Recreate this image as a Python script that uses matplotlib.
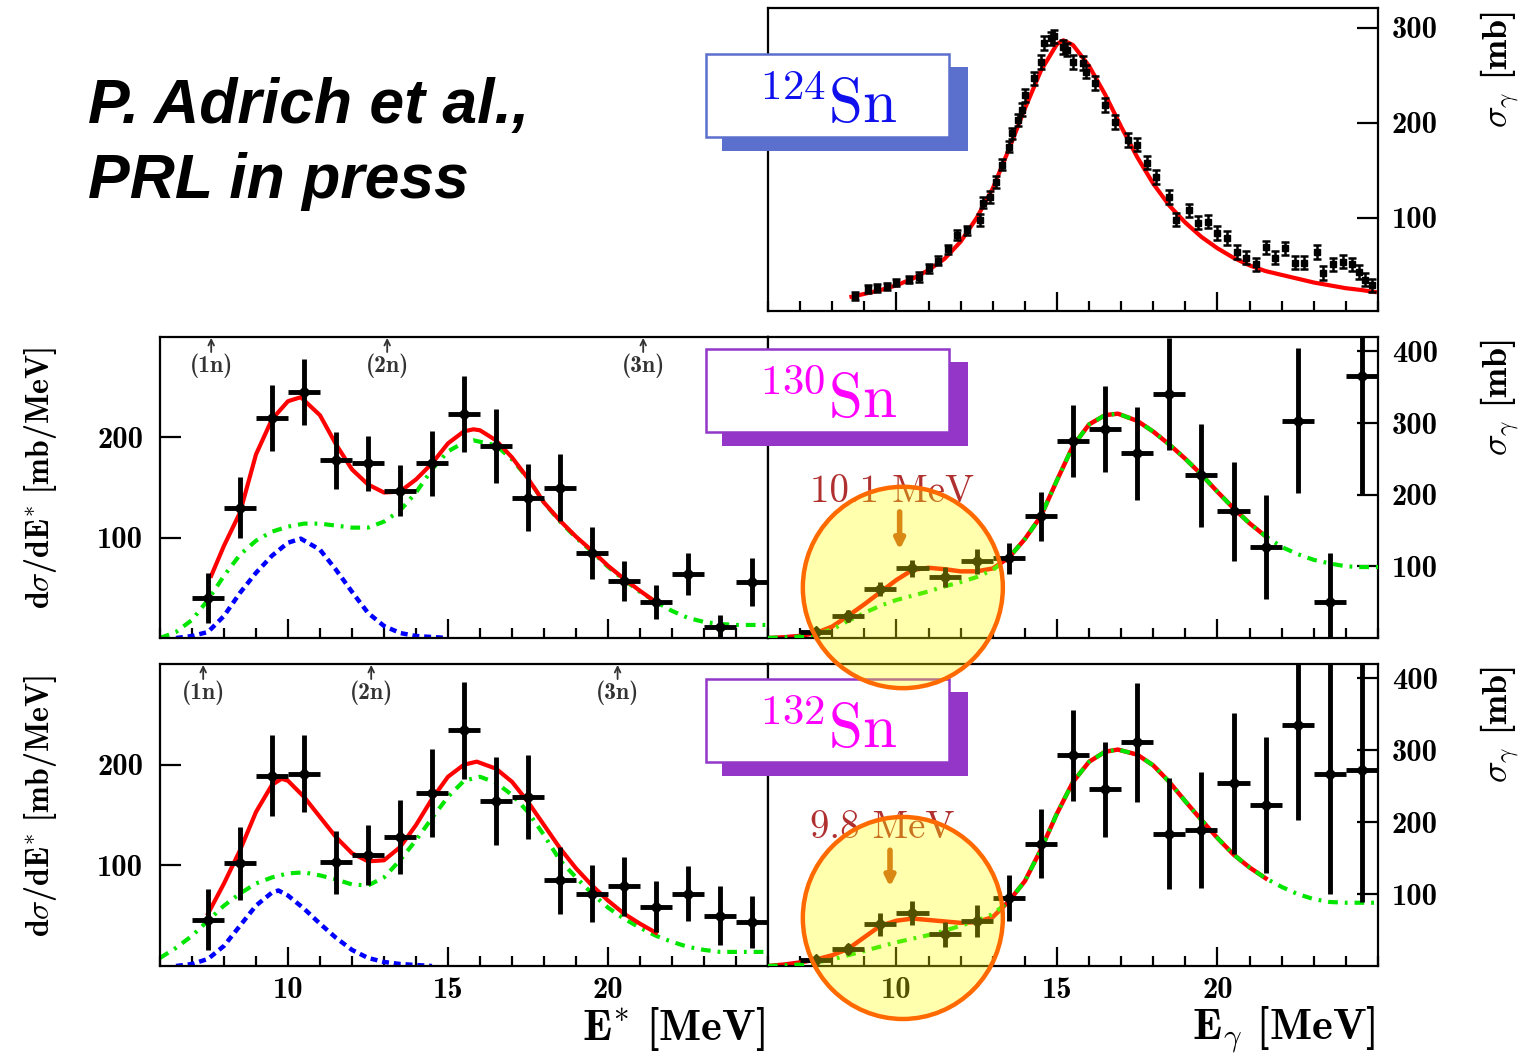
import matplotlib
matplotlib.use("Agg")
import matplotlib.pyplot as plt
from matplotlib.patches import Ellipse, Rectangle
from matplotlib.ticker import MultipleLocator, FixedLocator

plt.rcParams['mathtext.fontset'] = 'cm'
plt.rcParams['font.family'] = 'cmb10'
plt.rcParams['axes.unicode_minus'] = False
plt.rcParams['lines.scale_dashes'] = False

# ---- 124Sn photoabsorption cross section (top panel) ----
e124 = [8.7, 9.1, 9.4, 9.7, 10.0, 10.4, 10.7, 11.0, 11.3, 11.6, 11.9, 12.2, 12.6, 12.7,
        12.9, 13.1, 13.3, 13.5, 13.6, 13.8, 13.9, 14.0, 14.3, 14.5, 14.6, 14.8, 14.9,
        15.2, 15.3, 15.5, 15.8, 15.9, 16.2, 16.5, 16.8, 17.2, 17.5, 17.8, 18.1, 18.5,
        18.7, 19.1, 19.4, 19.7, 20.0, 20.3, 20.6, 20.9, 21.2, 21.5, 21.8, 22.1, 22.4,
        22.7, 23.1, 23.3, 23.6, 23.9, 24.2, 24.4, 24.6, 24.8]
sig124 = [18, 25, 26, 28, 32, 35, 38, 47, 55, 67, 82, 87, 98, 116, 122, 138, 156, 175,
          189, 203, 214, 229, 247, 264, 284, 289, 291, 280, 277, 264, 263, 254, 242, 219,
          201, 182, 177, 158, 143, 122, 98, 108, 95, 96, 84, 79, 64, 58, 51, 69, 58, 68,
          53, 53, 64, 42, 51, 54, 51, 43, 35, 29]
err124 = [4, 4, 4, 4, 4, 4, 5, 5, 5, 5, 5, 5, 6, 6, 6, 6, 6, 6, 6, 6, 7, 7, 7, 7, 7, 7,
          7, 7, 7, 7, 7, 7, 7, 7, 7, 7, 7, 7, 7, 7, 7, 7, 7, 7, 7, 7, 7, 7, 7, 7, 7, 7,
          7, 7, 7, 7, 7, 7, 7, 7, 7, 7]
fit124_e = [8.6, 9.0, 9.5, 10.0, 10.5, 11.0, 11.5, 12.0, 12.5, 13.0, 13.5, 14.0, 14.5,
            15.0, 15.2, 15.5, 16.0, 16.5, 17.0, 17.5, 18.0, 18.5, 19.0, 19.5, 20.0, 20.5,
            21.0, 21.5, 22.0, 22.5, 23.0, 23.5, 24.0, 24.5, 24.9]
fit124 = [17, 20, 24, 29, 36, 45, 57, 75, 100, 131, 172, 215, 255, 283, 287, 282, 260,
          230, 196, 164, 136, 113, 95, 80, 68, 58, 50, 44, 40, 36, 32, 29, 26, 24, 22]

# ---- energy bins shared by 130Sn / 132Sn spectra ----
ebin = [7.5, 8.5, 9.5, 10.5, 11.5, 12.5, 13.5, 14.5, 15.5, 16.5, 17.5, 18.5, 19.5, 20.5,
        21.5, 22.5, 23.5, 24.5]

# ---- 130Sn ----
dsde130 = [40, 130, 219, 245, 177, 174, 147, 174, 223, 191, 140, 150, 85, 57, 36, 64, 11, 56]
dsde130_err = [25, 30, 33, 33, 28, 27, 25, 32, 38, 37, 33, 33, 26, 20, 17, 21, 12, 24]
sg130 = [8, 31, 68, 97, 85, 107, 111, 170, 275, 292, 258, 341, 227, 177, 127, 303, 50, 366]
sg130_err = [4, 8, 10, 12, 14, 17, 22, 34, 50, 60, 65, 78, 72, 69, 72, 101, 68, 166]

tot130_e = [7.6, 8.0, 8.5, 9.0, 9.5, 10.0, 10.4, 11.0, 11.5, 12.0, 12.5, 13.0, 13.5, 14.0,
            14.5, 15.0, 15.5, 15.8, 16.0, 16.5, 17.0, 17.5, 18.0, 18.5, 19.0, 19.5, 20.0,
            20.5, 21.0, 21.4]
tot130 = [62, 92, 125, 183, 218, 236, 240, 222, 193, 168, 153, 145, 146, 158, 174, 194,
          206, 208, 207, 197, 180, 159, 135, 117, 101, 87, 72, 59, 47, 38]
gdr130_e = [6.0, 6.5, 7.0, 7.5, 8.0, 8.5, 9.0, 9.5, 10.0, 10.5, 11.0, 11.5, 12.0, 12.5,
            13.0, 13.5, 14.0, 14.5, 15.0, 15.5, 15.8, 16.5, 17.0, 17.5, 18.0, 18.5, 19.0,
            19.5, 20.0, 20.5, 21.0, 21.5, 22.0, 22.5, 23.0, 23.5, 24.0, 24.5, 25.0]
gdr130 = [0, 6, 18, 38, 62, 83, 97, 106, 111, 114, 114, 112, 110, 110, 116, 127, 145, 168,
          186, 195, 197, 192, 178, 159, 135, 116, 100, 86, 71, 58, 46, 36, 27, 20, 16, 14,
          13, 13, 13]
pdr130_e = [6.5, 7.0, 7.5, 8.0, 8.5, 9.0, 9.5, 10.0, 10.4, 11.0, 11.5, 12.0, 12.5, 13.0,
            13.5, 14.0, 14.5, 15.0]
pdr130 = [0, 2, 6, 22, 45, 65, 82, 95, 99, 88, 68, 46, 25, 12, 5, 2, 1, 0]

fitg130_e = [6.0, 6.5, 7.0, 7.5, 8.0, 8.5, 9.0, 9.5, 10.0, 10.5, 11.0, 11.5, 12.0, 12.5,
             13.0, 13.5, 14.0, 14.5, 15.0, 15.5, 16.0, 16.5, 16.9, 17.5, 18.0, 18.5, 19.0,
             19.5, 20.0, 20.5, 21.0, 21.5]
fitg130 = [0, 1, 3, 7, 16, 31, 47, 64, 81, 95, 98, 96, 93, 93, 97, 112, 138, 170, 220, 268,
           298, 311, 313, 303, 288, 270, 250, 228, 204, 181, 160, 142]
gdrg130_e = [6.0, 6.5, 7.0, 7.5, 8.0, 8.5, 9.0, 9.5, 10.0, 10.5, 11.0, 11.5, 12.0, 12.5,
             13.0, 13.5, 14.0, 14.5, 15.0, 15.5, 16.0, 16.5, 16.9, 17.5, 18.0, 18.5, 19.0,
             19.5, 20.0, 20.5, 21.0, 21.5, 22.0, 22.5, 23.0, 23.5, 24.0, 24.5, 25.0]
gdrg130 = [0, 1, 2, 5, 12, 24, 35, 45, 53, 59, 65, 72, 78, 85, 95, 112, 138, 170, 220, 268,
           298, 311, 313, 303, 288, 270, 250, 228, 204, 181, 160, 142, 127, 117, 109, 104,
           100, 99, 99]

# ---- 132Sn ----
dsde132 = [46, 102, 189, 191, 103, 110, 128, 172, 234, 164, 168, 85, 72, 79, 59, 72, 50, 44]
dsde132_err = [30, 36, 40, 38, 31, 30, 37, 44, 48, 44, 42, 33, 28, 29, 25, 27, 29, 26]
sg132 = [8, 24, 58, 74, 44, 63, 95, 170, 293, 246, 311, 184, 189, 254, 224, 335, 267, 272]
sg132_err = [4, 7, 16, 17, 17, 22, 32, 48, 63, 66, 83, 77, 81, 98, 94, 132, 167, 183]

tot132_e = [7.5, 8.0, 8.5, 9.0, 9.5, 9.8, 10.0, 10.5, 11.0, 11.5, 12.0, 12.5, 13.0, 13.5,
            14.0, 14.5, 15.0, 15.5, 15.9, 16.5, 17.0, 17.5, 18.0, 18.5, 19.0, 19.5, 20.0,
            20.5, 21.0, 21.5]
tot132 = [52, 82, 115, 153, 180, 186, 184, 168, 148, 128, 112, 104, 105, 118, 140, 166,
          188, 200, 203, 196, 183, 163, 140, 117, 97, 80, 65, 52, 42, 33]
gdr132_e = [6.0, 6.5, 7.0, 7.5, 8.0, 8.5, 9.0, 9.5, 10.0, 10.5, 11.0, 11.5, 12.0, 12.5,
            13.0, 13.5, 14.0, 14.5, 15.0, 15.5, 16.0, 16.5, 17.0, 17.5, 18.0, 18.5, 19.0,
            19.5, 20.0, 20.5, 21.0, 21.5, 22.0, 22.5, 23.0, 23.5, 24.0, 24.5, 25.0]
gdr132 = [8, 18, 30, 45, 60, 72, 82, 88, 92, 93, 90, 86, 81, 80, 88, 105, 125, 147, 168,
          184, 188, 182, 170, 153, 130, 105, 88, 72, 58, 47, 38, 30, 24, 19, 16, 14, 14,
          14, 14]
pdr132_e = [6.5, 7.0, 7.5, 8.0, 8.5, 9.0, 9.5, 9.7, 10.0, 10.5, 11.0, 11.5, 12.0, 12.5,
            13.0, 13.5, 14.0, 14.5]
pdr132 = [0, 2, 7, 20, 40, 60, 73, 75, 70, 57, 42, 28, 16, 8, 4, 2, 1, 0]

fitg132_e = [6.0, 6.5, 7.0, 7.5, 8.0, 8.5, 9.0, 9.5, 10.0, 10.5, 11.0, 11.5, 12.0, 12.5,
             13.0, 13.5, 14.0, 14.5, 15.0, 15.5, 16.0, 16.5, 16.9, 17.5, 18.0, 18.5, 19.0,
             19.5, 20.0, 20.5, 21.0, 21.5]
fitg132 = [0, 2, 5, 9, 15, 24, 40, 56, 63, 66, 64, 62, 60, 61, 68, 90, 118, 162, 212, 256,
           284, 298, 301, 294, 279, 256, 229, 203, 178, 155, 137, 122]
gdrg132_e = [6.0, 6.5, 7.0, 7.5, 8.0, 8.5, 9.0, 9.5, 10.0, 10.5, 11.0, 11.5, 12.0, 12.5,
             13.0, 13.5, 14.0, 14.5, 15.0, 15.5, 16.0, 16.5, 16.9, 17.5, 18.0, 18.5, 19.0,
             19.5, 20.0, 20.5, 21.0, 21.5, 22.0, 22.5, 23.0, 23.5, 24.0, 24.5, 25.0]
gdrg132 = [0, 1, 2, 5, 9, 15, 21, 27, 33, 38, 43, 49, 56, 63, 72, 90, 118, 162, 212, 256,
           284, 298, 301, 294, 279, 256, 229, 203, 178, 155, 137, 122, 110, 100, 93, 89, 88,
           88, 88]

# neutron separation thresholds (1n, 2n, 3n)
thr130 = [7.6, 13.1, 21.1]
thr132 = [7.35, 12.6, 20.3]
thr_labels = ['(1n)', '(2n)', '(3n)']

# PDR centroids
pdr_peak130 = 10.1
pdr_peak132 = 9.8

RED = '#ff0000'
GREEN = '#00e600'
BLUE = '#0000ff'
GREEN_DASH = (0, (7, 5, 2, 5))
BLUE_DASH = (0, (5, 3.5))

W, H = 1535, 1056
fig = plt.figure(figsize=(W / 100, H / 100), dpi=100)


def frac(x0, y_top, x1, y_bot):
    return [x0 / W, 1 - y_bot / H, (x1 - x0) / W, (y_bot - y_top) / H]


ax_top = fig.add_axes(frac(768, 8, 1378, 311))
ax_ml = fig.add_axes(frac(160, 337, 768, 638))
ax_mr = fig.add_axes(frac(768, 337, 1378, 638))
ax_bl = fig.add_axes(frac(160, 664, 768, 966))
ax_br = fig.add_axes(frac(768, 664, 1378, 966))


def frame(ax, side, yticks, xlabels):
    for s in ax.spines.values():
        s.set_linewidth(1.6)
    ax.set_xlim(6, 25)
    ax.xaxis.set_major_locator(FixedLocator([10, 15, 20]))
    ax.xaxis.set_minor_locator(MultipleLocator(1))
    ax.yaxis.set_major_locator(FixedLocator(yticks))
    ax.tick_params(axis='x', which='both', direction='in', top=False, bottom=True,
                   width=1.6, labelbottom=xlabels, labelsize=22, pad=8)
    ax.tick_params(axis='x', which='major', length=14)
    ax.tick_params(axis='x', which='minor', length=7)
    left = side == 'left'
    ax.tick_params(axis='y', which='major', direction='in', length=15, width=1.6,
                   left=left, right=not left, labelleft=left, labelright=not left,
                   labelsize=22, pad=12 if left else 10)


frame(ax_top, 'right', [100, 200, 300], False)
frame(ax_ml, 'left', [100, 200], False)
frame(ax_mr, 'right', [100, 200, 300, 400], False)
frame(ax_bl, 'left', [100, 200], True)
frame(ax_br, 'right', [100, 200, 300, 400], True)
ax_top.set_ylim(2, 321)
for ax in (ax_ml, ax_bl):
    ax.set_ylim(0, 300)
for ax in (ax_mr, ax_br):
    ax.set_ylim(0, 420)

pts = dict(fmt='D', ms=6, color='k', ecolor='k', elinewidth=3.5, capsize=0, zorder=4)

# top panel: 124Sn
ax_top.plot(fit124_e, fit124, color=RED, lw=3, zorder=2)
ax_top.errorbar(e124, sig124, yerr=err124, fmt='s', ms=4, color='k', elinewidth=1.8,
                capsize=3, capthick=1.8, zorder=3)

# excitation energy spectra
for ax, tot_e, tot, gdr_e, gdr, pdr_e, pdr, y, yerr in (
        (ax_ml, tot130_e, tot130, gdr130_e, gdr130, pdr130_e, pdr130, dsde130, dsde130_err),
        (ax_bl, tot132_e, tot132, gdr132_e, gdr132, pdr132_e, pdr132, dsde132, dsde132_err)):
    ax.plot(pdr_e, pdr, color=BLUE, lw=3.2, ls=BLUE_DASH, zorder=2)
    ax.plot(gdr_e, gdr, color=GREEN, lw=3, ls=GREEN_DASH, zorder=2)
    ax.plot(tot_e, tot, color=RED, lw=3, zorder=3)
    ax.errorbar(ebin, y, yerr=yerr, xerr=0.5, **pts)

# photoabsorption cross sections
for ax, fit_e, fit, g_e, g, y, yerr in (
        (ax_mr, fitg130_e, fitg130, gdrg130_e, gdrg130, sg130, sg130_err),
        (ax_br, fitg132_e, fitg132, gdrg132_e, gdrg132, sg132, sg132_err)):
    ax.plot(fit_e, fit, color=RED, lw=3.2, zorder=2)
    ax.plot(g_e, g, color=GREEN, lw=3, ls=GREEN_DASH, zorder=3)
    ax.errorbar(ebin, y, yerr=yerr, xerr=0.5, **pts)

# thresholds
for ax, thr in ((ax_ml, thr130), (ax_bl, thr132)):
    for e, lab in zip(thr, thr_labels):
        ax.annotate('', xy=(e, 0.997), xytext=(e, 0.95),
                    xycoords=('data', 'axes fraction'),
                    arrowprops=dict(arrowstyle='->', lw=1.3, color='#333333',
                                    shrinkA=0, shrinkB=0))
        ax.text(e, 0.905, lab, transform=ax.get_xaxis_transform(), ha='center',
                va='center', fontsize=17, color='#333333')

# PDR centroid markers
for ax, e, ytxt, y0, y1 in ((ax_mr, pdr_peak130, 204, 176, 123),
                            (ax_br, pdr_peak132, 192, 161, 110)):
    ax.text(e - 0.25, ytxt, f'{e:.1f} MeV', ha='center', va='center', fontsize=28,
            family='cmr10', color='#b03030', zorder=5)
    ax.annotate('', xy=(e, y1), xytext=(e, y0),
                arrowprops=dict(arrowstyle='-|>', lw=4, color='#c8501e',
                                mutation_scale=14, shrinkA=0, shrinkB=0), zorder=5)

# axis titles
for ax in (ax_ml, ax_bl):
    ax.text(-0.197, 0.53, r'd$\sigma$/dE$^{*}$ [mb/MeV]', transform=ax.transAxes,
            rotation=90, ha='center', va='center', fontsize=23)
for ax, yc in ((ax_top, 0.795), (ax_mr, 0.797), (ax_br, 0.80)):
    ax.text(1.2, yc, r'$\sigma_{\gamma}$ [mb]', transform=ax.transAxes,
            rotation=90, ha='center', va='center', fontsize=26)
ax_bl.text(0.995, -0.21, r'E$^{*}$ [MeV]', transform=ax_bl.transAxes,
           ha='right', va='center', fontsize=32)
ax_br.text(0.995, -0.21, r'E$_{\gamma}$ [MeV]', transform=ax_br.transAxes,
           ha='right', va='center', fontsize=32)

# isotope tags
for y_top, label, edge, txt in ((54, r'$^{124}$Sn', '#5b6fcc', '#1010ee'),
                                (349, r'$^{130}$Sn', '#9436c8', '#ff00ff'),
                                (679, r'$^{132}$Sn', '#9436c8', '#ff00ff')):
    fig.add_artist(Rectangle((722 / W, 1 - (y_top + 97) / H), 246 / W, 84 / H,
                             transform=fig.transFigure, facecolor=edge,
                             edgecolor='none', zorder=3))
    fig.add_artist(Rectangle((706 / W, 1 - (y_top + 83) / H), 243 / W, 83 / H,
                             transform=fig.transFigure, facecolor='white',
                             edgecolor=edge, lw=1.8, zorder=3.1))
    fig.text(828 / W, 1 - (y_top + 52) / H, label, ha='center', va='center',
             fontsize=44, family='cmr10', color=txt, zorder=3.2)

# highlight of the low-lying strength
for ax, yc in ((ax_mr, 70.5), (ax_br, 66.8)):
    fig.add_artist(Ellipse((10.2, yc), 6.23, 281, transform=ax.transData,
                           facecolor=(1, 1, 0, 0.32), edgecolor='#ff6a00', lw=3.2,
                           zorder=6))

fig.text(88 / W, 1 - 123 / H, 'P. Adrich et al.,', fontsize=45, family='Liberation Sans',
         weight='bold', style='italic', va='baseline')
fig.text(88 / W, 1 - 198 / H, 'PRL in press', fontsize=45, family='Liberation Sans',
         weight='bold', style='italic', va='baseline')

fig.savefig('out.png', dpi=100, facecolor='white')
